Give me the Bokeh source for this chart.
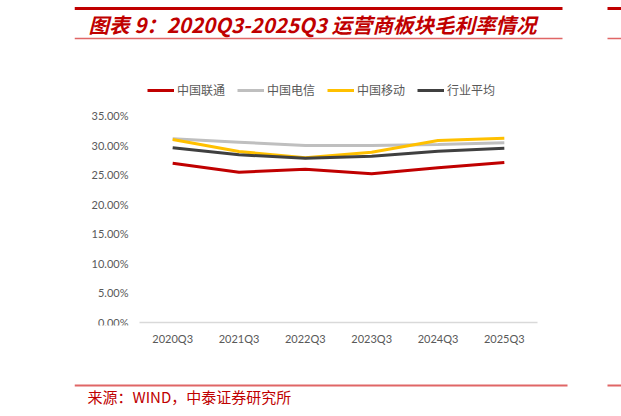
from bokeh.plotting import figure
from bokeh.models import (Range1d, Legend, LegendItem,
                          NumeralTickFormatter, FixedTicker)
from bokeh.layouts import column
from bokeh.core.properties import value
from bokeh.embed import file_html
from bokeh.resources import INLINE

# ---------------- data ----------------
quarters = ["2020Q3", "2021Q3", "2022Q3", "2023Q3", "2024Q3", "2025Q3"]
unicom = [0.2694, 0.2541, 0.2592, 0.2514, 0.2615, 0.2705]
telecom = [0.3106, 0.3049, 0.2993, 0.2993, 0.3010, 0.3038]
mobile = [0.3094, 0.2891, 0.2785, 0.2880, 0.3077, 0.3116]
industry = [0.2954, 0.2835, 0.2779, 0.2813, 0.2897, 0.2947]
series_names = ["中国联通", "中国电信", "中国移动", "行业平均"]
series_colors = ["#c00000", "#bfbfbf", "#ffc000", "#404040"]
y_ticks = [0.0, 0.05, 0.10, 0.15, 0.20, 0.25, 0.30, 0.35]

title_text = "图表 9：2020Q3-2025Q3 运营商板块毛利率情况"
source_text = "来源：WIND，中泰证券研究所"

W = 621
LEFT = 74           # all frames start at page x = 74
CJK = "Noto Sans CJK SC"
RED = "#c00000"
LIGHT_RED = "#e06666"

def band(h):
    # decorative band; x_range expressed in page pixels (frame = page 74..621)
    f = figure(width=W, height=h, x_range=Range1d(74, 621), y_range=Range1d(0, h),
               output_backend="svg", toolbar_location=None,
               min_border_left=LEFT, min_border_right=0,
               min_border_top=0, min_border_bottom=0)
    f.axis.visible = False
    f.grid.visible = False
    f.outline_line_color = None
    return f

# ---------------- header (page y 0..70) ----------------
hdr = band(70)
hdr.segment(x0=[74, 607], y0=[62, 62], x1=[562, 640], y1=[62, 62],
            line_color=RED, line_width=3)
hdr.segment(x0=[74, 607], y0=[32, 32], x1=[562, 640], y1=[32, 32],
            line_color=LIGHT_RED, line_width=1.5)
hdr.text(x=[88], y=[47], text=[title_text], text_font=value(CJK),
         text_font_size="20.5px", text_font_style="bold italic",
         text_color=RED, text_align="left", text_baseline="middle")

# ---------------- main chart (page y 70..365) ----------------
xs = list(range(len(quarters)))
unit = 398 / len(quarters)          # px per category
x_lo = -0.5 - (139 - 74) / unit
x_hi = len(quarters) - 0.5 + (621 - 537) / unit
px_per_y = 207 / 0.35
y_lo = -3 / px_per_y
y_hi = 0.35 + (115 - 78) / px_per_y

p = figure(width=W, height=295, x_range=Range1d(x_lo, x_hi),
           y_range=Range1d(y_lo, y_hi), output_backend="svg",
           toolbar_location=None, min_border_left=LEFT, min_border_right=0,
           min_border_top=8, min_border_bottom=40)
p.outline_line_color = None
p.grid.visible = False

# baseline at 0 across the category span
p.segment(x0=[xs[0] - 0.5], y0=[0], x1=[xs[-1] + 0.5], y1=[0],
          line_color="#d9d9d9", line_width=1.5)

renderers = []
for vals, col in zip([unicom, telecom, mobile, industry], series_colors):
    r = p.line(x=xs, y=vals, line_color=col, line_width=3)
    renderers.append(r)

p.yaxis.ticker = FixedTicker(ticks=y_ticks)
p.yaxis.formatter = NumeralTickFormatter(format="0.00%")
p.yaxis.fixed_location = xs[0] - 0.5
p.yaxis.axis_line_color = None
p.yaxis.major_tick_line_color = None
p.yaxis.minor_tick_line_color = None
p.yaxis.major_tick_out = 0
p.yaxis.minor_tick_out = 0
p.yaxis.major_label_standoff = 11

p.xaxis.ticker = FixedTicker(ticks=xs)
p.xaxis.major_label_overrides = {i: q for i, q in zip(xs, quarters)}
p.xaxis.axis_line_color = None
p.xaxis.major_tick_line_color = None
p.xaxis.minor_tick_line_color = None
p.xaxis.major_tick_out = 0
p.xaxis.minor_tick_out = 0
p.xaxis.major_label_standoff = 6
for ax in (p.xaxis, p.yaxis):
    ax.major_label_text_font = "Lato"
    ax.major_label_text_font_size = "11px"
    ax.major_label_text_color = "#595959"

legend = Legend(items=[LegendItem(label=n, renderers=[r])
                       for n, r in zip(series_names, renderers)],
                location=(73, 227), orientation="horizontal",
                glyph_width=27, glyph_height=12, label_height=12,
                label_standoff=3, spacing=12, padding=0, margin=0,
                border_line_color=None, background_fill_alpha=0,
                label_text_font=CJK, label_text_font_size="12px",
                label_text_color="#595959")
p.add_layout(legend)

# ---------------- footer (page y 365..416) ----------------
ftr = band(51)
ftr.segment(x0=[74, 607], y0=[31, 31], x1=[567, 640], y1=[31, 31],
            line_color=LIGHT_RED, line_width=2)
ftr.text(x=[87], y=[20], text=[source_text], text_font=value(CJK),
         text_font_size="15px", text_color=RED,
         text_align="left", text_baseline="middle")

layout = column(hdr, p, ftr, spacing=0)
open("out.html", "w").write(file_html(layout, INLINE))
